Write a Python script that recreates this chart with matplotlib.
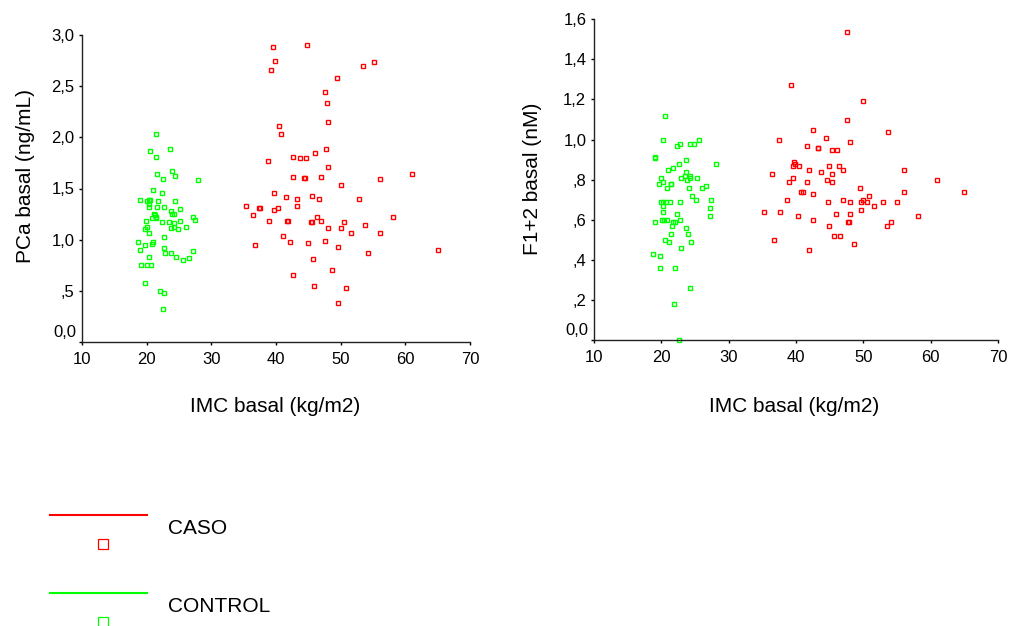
import matplotlib
matplotlib.use("Agg")
import matplotlib.pyplot as plt
from matplotlib.lines import Line2D

plt.rcParams["font.family"] = ["Liberation Sans", "DejaVu Sans"]

# PCa basal vs IMC basal
pca_control_imc = [21.4, 20.5, 23.6, 21.4, 23.9, 21.6, 22.6, 24.4, 28.0, 21.0, 22.4, 19.0, 20.1, 20.3, 20.5,
                   21.8, 24.4, 20.4, 20.3, 21.6, 22.7, 25.2, 23.7, 21.2, 21.3, 21.4, 21.5, 23.9, 24.2, 20.8,
                   27.2, 27.4, 19.9, 22.3, 23.4, 25.1, 24.3, 20.1, 19.8, 23.7, 24.2, 24.9, 26.1, 20.3, 18.7,
                   21.0, 20.8, 19.8, 22.7, 19.0, 22.7, 22.9, 23.7, 24.5, 20.3, 25.6, 26.5, 27.2, 19.1, 20.1,
                   20.7, 19.8, 22.1, 22.7, 22.6]
pca_control_val = [2.03, 1.87, 1.89, 1.81, 1.67, 1.64, 1.59, 1.62, 1.58, 1.49, 1.46, 1.39, 1.38, 1.39, 1.39,
                   1.38, 1.38, 1.35, 1.32, 1.32, 1.32, 1.30, 1.28, 1.25, 1.24, 1.22, 1.21, 1.25, 1.25, 1.21,
                   1.22, 1.19, 1.18, 1.17, 1.17, 1.18, 1.16, 1.12, 1.10, 1.11, 1.12, 1.10, 1.12, 1.07, 0.98,
                   0.98, 0.96, 0.95, 1.03, 0.90, 0.92, 0.87, 0.87, 0.83, 0.83, 0.80, 0.82, 0.89, 0.75, 0.75,
                   0.75, 0.58, 0.50, 0.48, 0.32]
pca_caso_imc = [39.6, 44.8, 39.9, 39.3, 53.5, 55.2, 49.5, 47.5, 47.9, 48.0, 40.4, 40.8, 47.7, 38.8, 42.6,
                43.7, 44.7, 46.0, 48.0, 42.6, 44.4, 44.5, 47.0, 56.1, 61.1, 50.0, 39.7, 41.5, 43.2, 45.5,
                46.7, 52.9, 35.3, 37.4, 37.6, 43.2, 36.4, 39.7, 40.3, 38.9, 41.7, 41.9, 45.4, 45.5, 46.4,
                47.0, 50.5, 53.7, 58.1, 48.0, 50.0, 51.6, 56.1, 41.1, 42.1, 44.9, 47.5, 36.8, 49.6, 54.2,
                65.1, 45.7, 48.7, 42.6, 45.9, 50.8, 49.6]
pca_caso_val = [2.88, 2.90, 2.75, 2.66, 2.70, 2.74, 2.58, 2.44, 2.34, 2.15, 2.11, 2.03, 1.89, 1.77, 1.81,
                1.80, 1.80, 1.85, 1.71, 1.61, 1.60, 1.60, 1.61, 1.59, 1.64, 1.53, 1.46, 1.42, 1.40, 1.43,
                1.40, 1.40, 1.33, 1.31, 1.31, 1.33, 1.24, 1.29, 1.31, 1.18, 1.18, 1.18, 1.17, 1.17, 1.22,
                1.18, 1.17, 1.14, 1.22, 1.11, 1.11, 1.07, 1.07, 1.04, 0.98, 0.97, 0.99, 0.95, 0.93, 0.87,
                0.90, 0.81, 0.70, 0.65, 0.55, 0.53, 0.38]

# F1+2 basal vs IMC basal
f12_control_imc = [20.6, 20.3, 25.6, 22.8, 22.4, 24.3, 24.9, 19.0, 19.0, 23.6, 22.6, 28.1, 21.0, 21.7, 23.7,
                   23.5, 24.3, 24.2, 22.9, 25.3, 19.9, 20.2, 19.7, 21.4, 21.5, 23.8, 20.9, 24.1, 26.1, 26.6,
                   24.5, 27.4, 25.1, 20.0, 20.3, 20.7, 21.3, 22.8, 20.3, 27.2, 20.2, 22.3, 27.2, 20.1, 20.4,
                   20.9, 22.8, 19.1, 21.8, 22.0, 21.6, 23.7, 21.4, 23.9, 20.6, 21.2, 24.4, 22.9, 18.7, 19.8,
                   19.8, 22.1, 24.2, 21.9, 22.6]
f12_control_val = [1.117, 1.00, 1.00, 0.98, 0.97, 0.98, 0.98, 0.915, 0.91, 0.90, 0.88, 0.88, 0.85, 0.86, 0.84,
                   0.82, 0.82, 0.81, 0.81, 0.81, 0.81, 0.79, 0.78, 0.78, 0.78, 0.80, 0.76, 0.76, 0.76, 0.77,
                   0.72, 0.70, 0.70, 0.69, 0.69, 0.69, 0.69, 0.69, 0.67, 0.66, 0.64, 0.63, 0.62, 0.60, 0.60,
                   0.60, 0.60, 0.59, 0.59, 0.59, 0.57, 0.56, 0.53, 0.53, 0.50, 0.49, 0.49, 0.46, 0.43, 0.42,
                   0.36, 0.36, 0.26, 0.18, 0.00]
f12_caso_imc = [47.5, 39.3, 50.0, 47.5, 42.5, 53.6, 44.4, 37.5, 48.0, 41.6, 43.2, 43.3, 45.4, 46.1, 39.7,
                39.9, 40.5, 39.6, 44.9, 46.4, 41.9, 47.0, 56.1, 43.7, 45.4, 36.5, 39.6, 44.6, 61.0, 38.9,
                41.7, 45.3, 49.5, 40.7, 41.0, 56.1, 65.0, 42.5, 50.8, 38.7, 47.0, 50.0, 49.7, 50.5, 44.7,
                48.0, 52.9, 55.0, 51.6, 49.6, 35.3, 37.6, 45.9, 48.0, 40.3, 58.1, 42.5, 47.7, 47.9, 54.1,
                44.9, 53.5, 45.7, 46.6, 36.8, 48.6, 42.0]
f12_caso_val = [1.536, 1.27, 1.19, 1.10, 1.05, 1.04, 1.01, 1.00, 0.99, 0.97, 0.96, 0.96, 0.95, 0.95, 0.89,
                0.88, 0.87, 0.87, 0.87, 0.87, 0.85, 0.85, 0.85, 0.84, 0.83, 0.83, 0.81, 0.80, 0.80, 0.79,
                0.79, 0.79, 0.76, 0.74, 0.74, 0.74, 0.74, 0.73, 0.72, 0.70, 0.70, 0.70, 0.69, 0.69, 0.69,
                0.69, 0.69, 0.69, 0.67, 0.65, 0.64, 0.64, 0.63, 0.63, 0.62, 0.62, 0.60, 0.59, 0.59, 0.59,
                0.57, 0.57, 0.52, 0.52, 0.50, 0.48, 0.45]

pca_ticks = [0.0, 0.5, 1.0, 1.5, 2.0, 2.5, 3.0]
pca_labels = ["", ",5", "1,0", "1,5", "2,0", "2,5", "3,0"]
f12_ticks = [0.0, 0.2, 0.4, 0.6, 0.8, 1.0, 1.2, 1.4, 1.6]
f12_labels = ["", ",2", ",4", ",6", ",8", "1,0", "1,2", "1,4", "1,6"]
imc_ticks = [10, 20, 30, 40, 50, 60, 70]

RED = "#ff0000"
GREEN = "#00ff00"
W, H = 1009, 626

fig = plt.figure(figsize=(W / 100, H / 100), dpi=100)
ax1 = fig.add_axes([82 / W, 1 - 342 / H, 388 / W, 307 / H])
ax2 = fig.add_axes([594 / W, 1 - 340 / H, 404 / W, 320.7 / H])


def style(ax, yticks, ylabels, ymax):
    ax.set_xlim(10, 70)
    ax.set_ylim(0, ymax)
    ax.set_xticks(imc_ticks)
    ax.set_yticks(yticks)
    ax.set_yticklabels(ylabels)
    for s in ["top", "right"]:
        ax.spines[s].set_visible(False)
    for s in ["left", "bottom"]:
        ax.spines[s].set_linewidth(1.0)
        ax.spines[s].set_color("#222222")
    ax.tick_params(axis="both", labelsize=12, length=2.5, width=1, pad=3)
    ax.tick_params(axis="x", pad=5)
    ax.annotate("0,0", xy=(0, 0), xycoords=("axes fraction", "data"), xytext=(-4, 7),
                textcoords="offset points", ha="right", va="center", fontsize=12)


def draw(ax, cx, cy, kx, ky):
    ax.plot(cx, cy, ls="none", marker="s", ms=3.4, mfc="none", mec=GREEN, mew=1.0, clip_on=False)
    ax.plot(kx, ky, ls="none", marker="s", ms=3.4, mfc="none", mec=RED, mew=1.0, clip_on=False)


draw(ax1, pca_control_imc, pca_control_val, pca_caso_imc, pca_caso_val)
draw(ax2, f12_control_imc, f12_control_val, f12_caso_imc, f12_caso_val)
style(ax1, pca_ticks, pca_labels, 3.0)
style(ax2, f12_ticks, f12_labels, 1.6)

fig.text(26 / W, 1 - 176 / H, "PCa basal (ng/mL)", rotation=90, ha="center", va="center", fontsize=15)
fig.text(275 / W, 1 - 407 / H, "IMC basal (kg/m2)", ha="center", va="center", fontsize=15)
fig.text(532 / W, 1 - 179 / H, "F1+2 basal (nM)", rotation=90, ha="center", va="center", fontsize=15)
fig.text(794 / W, 1 - 407 / H, "IMC basal (kg/m2)", ha="center", va="center", fontsize=15)

# legend drawn by hand, SPSS style
groups = [("CASO", RED, 515), ("CONTROL", GREEN, 593)]
for name, col, ypix in groups:
    fig.add_artist(Line2D([50 / W, 147 / W], [1 - ypix / H] * 2, color=col, lw=1.5))
    fig.add_artist(Line2D([103 / W], [1 - (ypix + 29) / H], ls="none", marker="s", ms=6.8,
                          mfc="none", mec=col, mew=0.9))
    fig.text(168 / W, 1 - (ypix + 13) / H, name, ha="left", va="center", fontsize=15)

fig.savefig("out.png", dpi=100)
